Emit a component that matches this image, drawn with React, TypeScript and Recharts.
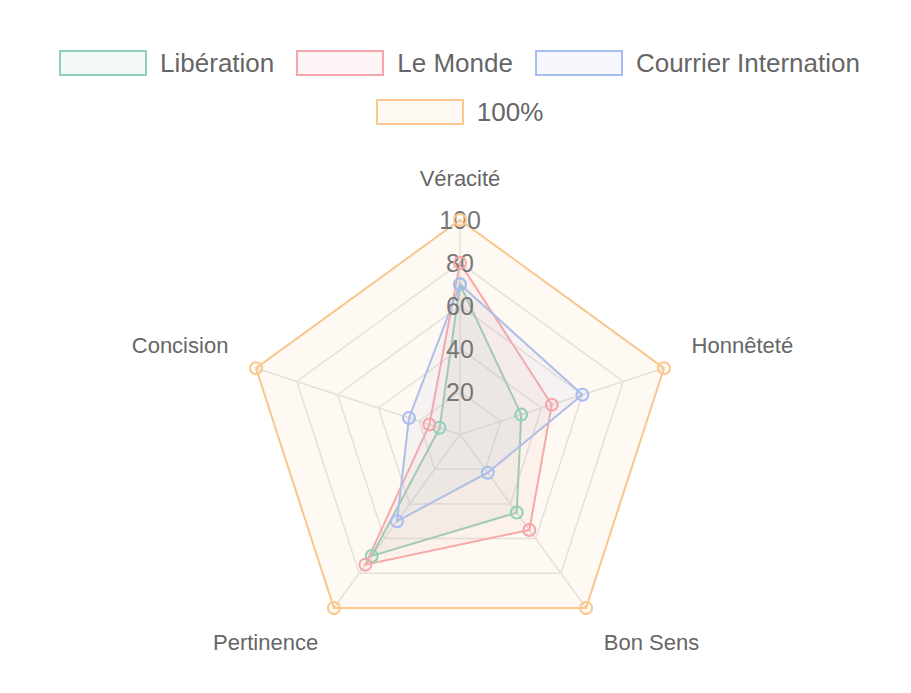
import React from "react";
import {
  RadarChart,
  Radar,
  PolarGrid,
  PolarAngleAxis,
  PolarRadiusAxis,
  Legend,
} from "recharts";

const criteria = ["Véracité", "Honnêteté", "Bon Sens", "Pertinence", "Concision"];
const liberation = [70, 30, 45, 70, 10];
const leMonde = [80, 45, 55, 75, 15];
const courrier = [70, 60, 22, 50, 25];
const full = [100, 100, 100, 100, 100];
const radiusTicks = [0, 20, 40, 60, 80, 100];

const series = [
  { key: "lib", name: "Libération", stroke: "#8fd1b8", values: liberation },
  { key: "lm", name: "Le Monde", stroke: "#f6a6ab", values: leMonde },
  { key: "ci", name: "Courrier Internation", stroke: "#a8bdf2", values: courrier },
  { key: "full", name: "100%", stroke: "#fac78e", values: full },
];

const data = criteria.map((c, i) => {
  const row: Record<string, string | number> = { criterion: c };
  series.forEach((s) => {
    row[s.key] = s.values[i];
  });
  return row;
});

const FONT = "'Liberation Sans', Arial, sans-serif";
const CX = 452;
const CY = 426.5;

// labels autour du pentagone, décalés comme dans la référence
const AngleTick = (props: any) => {
  const { x, y, payload, textAnchor } = props;
  let dx = 0;
  let dy = 0;
  if (textAnchor === "middle") {
    dy = -34;
  } else if (y < CY) {
    dx = textAnchor === "start" ? 20 : -20;
    dy = -20;
  } else {
    dx = textAnchor === "start" ? 13 : -11;
    dy = 28;
  }
  return (
    <text
      x={x + dx}
      y={y + dy}
      textAnchor={textAnchor}
      dominantBaseline="central"
      fill="#666"
      fontSize={22}
      fontFamily={FONT}
    >
      {payload.value}
    </text>
  );
};

const RadiusTick = (props: any) => {
  const { x, y, payload } = props;
  if (payload.value === 0) return null;
  return (
    <text
      x={x}
      y={y}
      textAnchor="middle"
      dominantBaseline="central"
      fill="#777"
      fontSize={25}
      fontFamily={FONT}
    >
      {payload.value}
    </text>
  );
};

const renderLegend = () => (
  <div
    style={{
      display: "flex",
      flexWrap: "wrap",
      justifyContent: "center",
      columnGap: 22,
      rowGap: 19,
      width: 870,
      margin: "0 auto",
    }}
  >
    {series.map((s) => (
      <div key={s.key} style={{ display: "flex", alignItems: "center", height: 30 }}>
        <span
          style={{
            display: "inline-block",
            width: 84,
            height: 22,
            border: `2px solid ${s.stroke}`,
            background: s.stroke + "1a",
            marginRight: 13,
          }}
        />
        <span style={{ fontFamily: FONT, fontSize: 26, color: "#666" }}>{s.name}</span>
      </div>
    ))}
  </div>
);

export default function App() {
  return (
    <div style={{ width: 903, height: 685 }}>
      <RadarChart
        width={903}
        height={685}
        data={data}
        cx={CX}
        cy={CY}
        outerRadius={214.5}
        margin={{ top: 0, right: 0, bottom: 0, left: 0 }}
      >
        <PolarGrid gridType="polygon" stroke="#e4e4e4" strokeWidth={1.5} />
        <PolarAngleAxis dataKey="criterion" tick={<AngleTick />} tickLine={false} axisLine={false} />
        <PolarRadiusAxis
          angle={90}
          domain={[0, 100]}
          ticks={radiusTicks}
          tick={<RadiusTick />}
          axisLine={false}
          tickLine={false}
        />
        {series.map((s) => (
          <Radar
            key={s.key}
            name={s.name}
            dataKey={s.key}
            stroke={s.stroke}
            strokeWidth={2}
            fill={s.stroke}
            fillOpacity={0.1}
            dot={{ r: 6, strokeWidth: 2 }}
            isAnimationActive={false}
          />
        ))}
        <Legend
          verticalAlign="top"
          content={renderLegend}
          wrapperStyle={{ top: 40, left: 0, width: 903 }}
        />
      </RadarChart>
    </div>
  );
}
